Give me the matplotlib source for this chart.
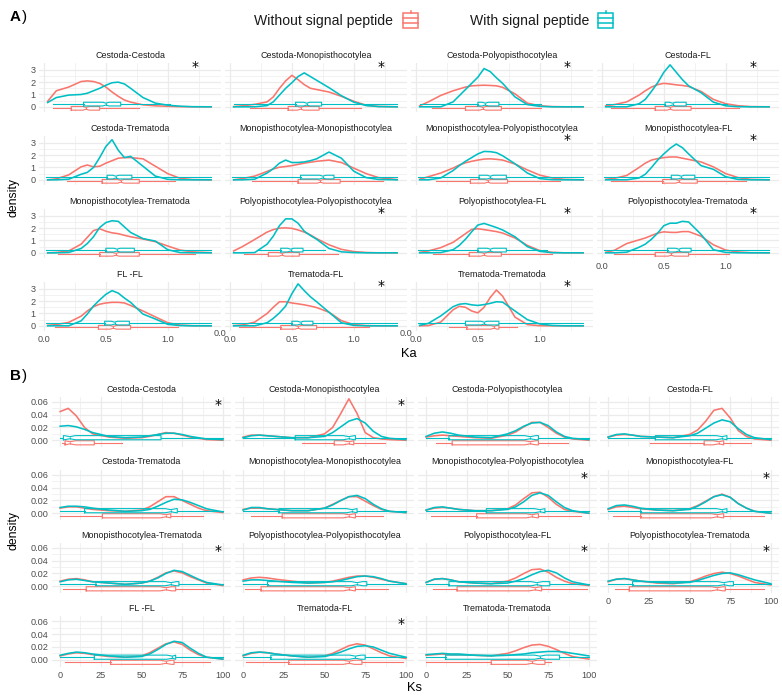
import numpy as np
import matplotlib
matplotlib.use("Agg")
import matplotlib.pyplot as plt
from matplotlib import font_manager
from matplotlib.patches import Rectangle
from matplotlib.lines import Line2D

# font: narrow sans if we have it
_names = {f.name for f in font_manager.fontManager.ttflist}
if 'Liberation Sans Narrow' in _names:
    FONT, SC = 'Liberation Sans Narrow', 1.0
else:
    FONT, SC = 'Liberation Sans', 0.84
plt.rcParams['font.family'] = [FONT, 'DejaVu Sans']

RED = '#F8766D'
CYAN = '#00BFC4'

facets = ["Cestoda-Cestoda", "Cestoda-Monopisthocotylea", "Cestoda-Polyopisthocotylea", "Cestoda-FL",
          "Cestoda-Trematoda", "Monopisthocotylea-Monopisthocotylea", "Monopisthocotylea-Polyopisthocotylea",
          "Monopisthocotylea-FL", "Monopisthocotylea-Trematoda", "Polyopisthocotylea-Polyopisthocotylea",
          "Polyopisthocotylea-FL", "Polyopisthocotylea-Trematoda", "FL -FL", "Trematoda-FL",
          "Trematoda-Trematoda"]

# ---------------- Ka ----------------
ka_grid = [0.03, 0.1, 0.2, 0.3, 0.35, 0.4, 0.45, 0.5, 0.55, 0.6, 0.65, 0.7, 0.8, 0.9, 1.0, 1.1, 1.2, 1.35]

ka_without = {
    "Cestoda-Cestoda": [0.45, 1.3, 1.6, 2.05, 2.1, 2.05, 1.9, 1.6, 1.2, 0.85, 0.55, 0.38, 0.16, 0.08, 0.04, 0.01, 0, 0],
    "Cestoda-Monopisthocotylea": [0.02, 0.08, 0.2, 0.4, 0.8, 1.5, 2.1, 2.55, 2.2, 1.8, 1.5, 1.4, 1.2, 0.85, 0.45, 0.13, 0.03, 0],
    "Cestoda-Polyopisthocotylea": [0.08, 0.4, 0.92, 1.3, 1.45, 1.6, 1.7, 1.73, 1.75, 1.73, 1.7, 1.58, 1.05, 0.3, 0.08, 0.02, 0, 0],
    "Cestoda-FL": [0.08, 0.18, 0.4, 0.95, 1.3, 1.6, 1.8, 1.9, 1.85, 1.78, 1.73, 1.65, 1.25, 0.6, 0.25, 0.09, 0.02, 0],
    "Cestoda-Trematoda": [0, 0.08, 0.4, 1.05, 1.2, 1.05, 1.1, 1.35, 1.55, 1.75, 1.8, 1.8, 1.7, 1.1, 0.5, 0.12, 0.02, 0],
    "Monopisthocotylea-Monopisthocotylea": [0, 0.1, 0.3, 0.68, 0.88, 1.02, 1.08, 1.15, 1.25, 1.35, 1.43, 1.5, 1.6, 1.4, 0.95, 0.5, 0.18, 0.02],
    "Monopisthocotylea-Polyopisthocotylea": [0.05, 0.25, 0.55, 0.95, 1.2, 1.38, 1.5, 1.6, 1.68, 1.7, 1.66, 1.6, 1.28, 0.8, 0.38, 0.15, 0.04, 0],
    "Monopisthocotylea-FL": [0.04, 0.12, 0.35, 1.0, 1.35, 1.6, 1.72, 1.8, 1.85, 1.85, 1.75, 1.65, 1.45, 1.05, 0.5, 0.18, 0.04, 0],
    "Monopisthocotylea-Trematoda": [0, 0.03, 0.15, 0.7, 1.25, 1.8, 1.95, 1.75, 1.62, 1.55, 1.42, 1.3, 1.12, 0.9, 0.55, 0.22, 0.08, 0.01],
    "Polyopisthocotylea-Polyopisthocotylea": [0.15, 0.5, 1.08, 1.68, 1.88, 2.0, 2.02, 1.98, 1.85, 1.68, 1.45, 1.15, 0.65, 0.28, 0.1, 0.03, 0, 0],
    "Polyopisthocotylea-FL": [0.04, 0.15, 0.42, 0.85, 1.2, 1.55, 1.9, 1.95, 1.88, 1.8, 1.72, 1.6, 1.2, 0.6, 0.18, 0.04, 0, 0],
    "Polyopisthocotylea-Trematoda": [0.04, 0.2, 0.75, 1.05, 1.2, 1.4, 1.6, 1.7, 1.66, 1.65, 1.72, 1.72, 1.35, 0.65, 0.22, 0.07, 0.01, 0],
    "FL -FL": [0.04, 0.1, 0.28, 0.78, 1.2, 1.55, 1.75, 1.85, 1.9, 1.9, 1.85, 1.65, 1.2, 0.72, 0.25, 0.06, 0.01, 0],
    "Trematoda-FL": [0.02, 0.07, 0.3, 1.0, 1.5, 1.95, 1.95, 1.85, 1.78, 1.7, 1.6, 1.48, 1.1, 0.42, 0.1, 0.02, 0, 0],
    "Trematoda-Trematoda": [0, 0.02, 0.3, 1.3, 1.58, 1.5, 1.2, 1.05, 1.5, 2.3, 2.9, 2.4, 0.7, 0.1, 0.01, 0, 0, 0],
}
ka_with = {
    "Cestoda-Cestoda": [0.35, 0.75, 0.95, 1.0, 1.1, 1.3, 1.5, 1.75, 1.95, 2.0, 1.85, 1.5, 0.75, 0.3, 0.13, 0.05, 0.01, 0],
    "Cestoda-Monopisthocotylea": [0, 0, 0, 0.1, 0.4, 0.95, 1.5, 1.95, 2.45, 2.75, 2.45, 2.15, 1.55, 0.9, 0.38, 0.1, 0.02, 0],
    "Cestoda-Polyopisthocotylea": [0, 0, 0, 0.4, 0.9, 1.4, 1.9, 2.4, 3.1, 2.85, 2.35, 1.9, 0.8, 0.18, 0.04, 0, 0, 0],
    "Cestoda-FL": [0, 0, 0, 0.25, 0.6, 1.25, 1.95, 2.8, 3.4, 2.8, 2.2, 1.7, 1.15, 0.38, 0.08, 0.01, 0, 0],
    "Cestoda-Trematoda": [0, 0, 0.05, 0.45, 0.6, 1.0, 1.8, 2.7, 3.25, 2.4, 1.8, 1.9, 1.1, 0.3, 0.04, 0, 0, 0],
    "Monopisthocotylea-Monopisthocotylea": [0, 0, 0.05, 0.55, 0.9, 1.35, 1.6, 1.4, 1.4, 1.45, 1.55, 1.7, 2.25, 1.75, 0.7, 0.18, 0.03, 0],
    "Monopisthocotylea-Polyopisthocotylea": [0, 0, 0.15, 0.75, 1.15, 1.5, 1.8, 2.1, 2.3, 2.28, 2.2, 1.95, 1.3, 0.55, 0.1, 0.01, 0, 0],
    "Monopisthocotylea-FL": [0, 0, 0, 0.15, 0.45, 1.0, 1.6, 2.1, 2.55, 2.9, 2.6, 2.1, 1.15, 0.85, 0.25, 0.03, 0, 0],
    "Monopisthocotylea-Trematoda": [0, 0, 0.03, 0.35, 0.75, 1.3, 2.05, 2.45, 2.6, 2.55, 2.1, 1.65, 1.15, 0.95, 0.25, 0.02, 0, 0],
    "Polyopisthocotylea-Polyopisthocotylea": [0, 0, 0.02, 0.7, 1.35, 2.2, 2.75, 2.75, 2.4, 1.75, 1.4, 1.1, 0.35, 0.08, 0.02, 0, 0, 0],
    "Polyopisthocotylea-FL": [0, 0, 0.02, 0.25, 0.6, 1.1, 1.7, 2.25, 2.38, 2.22, 2.05, 1.85, 1.3, 0.5, 0.12, 0.01, 0, 0],
    "Polyopisthocotylea-Trematoda": [0, 0, 0.05, 0.45, 0.7, 1.1, 1.6, 2.2, 2.4, 2.4, 2.55, 2.5, 1.5, 0.25, 0.03, 0, 0, 0],
    "FL -FL": [0, 0, 0, 0.4, 0.95, 1.6, 2.1, 2.55, 2.85, 2.65, 2.25, 1.9, 0.95, 0.55, 0.12, 0.02, 0, 0],
    "Trematoda-FL": [0, 0, 0, 0.25, 0.6, 1.05, 1.6, 2.6, 3.4, 2.85, 2.35, 1.95, 1.1, 0.25, 0.03, 0, 0, 0],
    "Trematoda-Trematoda": [0.04, 0.2, 0.8, 1.55, 1.75, 1.8, 1.7, 1.65, 1.72, 1.82, 1.95, 1.92, 1.2, 0.5, 0.15, 0.03, 0, 0],
}
# (whisker low, q1, median, q3, whisker high)
ka_box_without = {
    "Cestoda-Cestoda": (0.07, 0.22, 0.34, 0.45, 0.77),
    "Cestoda-Monopisthocotylea": (0.16, 0.47, 0.57, 0.72, 1.06),
    "Cestoda-Polyopisthocotylea": (0.13, 0.40, 0.54, 0.69, 1.01),
    "Cestoda-FL": (0.07, 0.43, 0.55, 0.72, 1.11),
    "Cestoda-Trematoda": (0.19, 0.47, 0.62, 0.77, 1.06),
    "Monopisthocotylea-Monopisthocotylea": (0.18, 0.55, 0.73, 0.89, 1.24),
    "Monopisthocotylea-Polyopisthocotylea": (0.16, 0.44, 0.58, 0.74, 1.16),
    "Monopisthocotylea-FL": (0.07, 0.49, 0.62, 0.77, 1.16),
    "Monopisthocotylea-Trematoda": (0.11, 0.45, 0.58, 0.77, 1.22),
    "Polyopisthocotylea-Polyopisthocotylea": (0.11, 0.31, 0.42, 0.56, 0.87),
    "Polyopisthocotylea-FL": (0.14, 0.43, 0.55, 0.69, 1.10),
    "Polyopisthocotylea-Trematoda": (0.10, 0.43, 0.56, 0.70, 1.03),
    "FL -FL": (0.09, 0.44, 0.56, 0.70, 1.08),
    "Trematoda-FL": (0.07, 0.41, 0.55, 0.70, 1.12),
    "Trematoda-Trematoda": (0.27, 0.41, 0.63, 0.67, 0.82),
}
ka_box_with = {
    "Cestoda-Cestoda": (0.07, 0.32, 0.50, 0.62, 1.02),
    "Cestoda-Monopisthocotylea": (0.03, 0.53, 0.62, 0.74, 1.35),
    "Cestoda-Polyopisthocotylea": (0.03, 0.50, 0.56, 0.67, 1.01),
    "Cestoda-FL": (0.03, 0.51, 0.57, 0.68, 1.01),
    "Cestoda-Trematoda": (0.02, 0.51, 0.58, 0.71, 1.35),
    "Monopisthocotylea-Monopisthocotylea": (0.02, 0.57, 0.75, 0.84, 1.35),
    "Monopisthocotylea-Polyopisthocotylea": (0.02, 0.51, 0.60, 0.73, 1.35),
    "Monopisthocotylea-FL": (0.02, 0.56, 0.64, 0.75, 1.35),
    "Monopisthocotylea-Trematoda": (0.02, 0.50, 0.59, 0.73, 1.35),
    "Polyopisthocotylea-Polyopisthocotylea": (0.22, 0.41, 0.49, 0.59, 0.77),
    "Polyopisthocotylea-FL": (0.02, 0.50, 0.60, 0.73, 1.06),
    "Polyopisthocotylea-Trematoda": (0.02, 0.53, 0.62, 0.72, 1.35),
    "FL -FL": (0.02, 0.49, 0.57, 0.69, 1.35),
    "Trematoda-FL": (0.02, 0.50, 0.57, 0.67, 1.35),
    "Trematoda-Trematoda": (0.02, 0.40, 0.55, 0.67, 1.35),
}
ka_star = ["Cestoda-Cestoda", "Cestoda-Monopisthocotylea", "Cestoda-Polyopisthocotylea", "Cestoda-FL",
           "Monopisthocotylea-Polyopisthocotylea", "Monopisthocotylea-FL",
           "Polyopisthocotylea-Polyopisthocotylea", "Polyopisthocotylea-FL", "Polyopisthocotylea-Trematoda",
           "Trematoda-FL", "Trematoda-Trematoda"]

# ---------------- Ks ----------------
ks_grid = [0, 5, 10, 15, 20, 30, 40, 50, 55, 60, 65, 70, 75, 80, 85, 90, 100]

ks_without = {
    "Cestoda-Cestoda": [0.045, 0.05, 0.038, 0.02, 0.01, 0.005, 0.003, 0.004, 0.006, 0.009, 0.012, 0.011, 0.008, 0.005, 0.003, 0.001, 0],
    "Cestoda-Monopisthocotylea": [0.005, 0.008, 0.008, 0.007, 0.006, 0.004, 0.004, 0.01, 0.02, 0.042, 0.065, 0.042, 0.012, 0.004, 0.002, 0.001, 0],
    "Cestoda-Polyopisthocotylea": [0.005, 0.007, 0.008, 0.007, 0.006, 0.004, 0.003, 0.008, 0.013, 0.021, 0.028, 0.028, 0.02, 0.011, 0.005, 0.002, 0],
    "Cestoda-FL": [0.005, 0.008, 0.009, 0.008, 0.006, 0.005, 0.004, 0.009, 0.016, 0.03, 0.047, 0.05, 0.035, 0.015, 0.006, 0.002, 0],
    "Cestoda-Trematoda": [0.008, 0.01, 0.01, 0.008, 0.006, 0.004, 0.003, 0.005, 0.01, 0.018, 0.026, 0.026, 0.02, 0.014, 0.008, 0.004, 0.001],
    "Monopisthocotylea-Monopisthocotylea": [0.006, 0.008, 0.008, 0.007, 0.006, 0.004, 0.004, 0.008, 0.014, 0.02, 0.026, 0.026, 0.019, 0.012, 0.006, 0.003, 0.001],
    "Monopisthocotylea-Polyopisthocotylea": [0.005, 0.008, 0.009, 0.008, 0.006, 0.004, 0.004, 0.007, 0.013, 0.023, 0.032, 0.033, 0.025, 0.014, 0.006, 0.003, 0],
    "Monopisthocotylea-FL": [0.006, 0.01, 0.011, 0.009, 0.007, 0.005, 0.004, 0.007, 0.012, 0.019, 0.026, 0.03, 0.025, 0.015, 0.008, 0.003, 0],
    "Monopisthocotylea-Trematoda": [0.008, 0.011, 0.012, 0.01, 0.007, 0.005, 0.003, 0.005, 0.008, 0.014, 0.021, 0.024, 0.021, 0.015, 0.01, 0.005, 0.001],
    "Polyopisthocotylea-Polyopisthocotylea": [0.01, 0.013, 0.014, 0.013, 0.011, 0.008, 0.005, 0.006, 0.008, 0.011, 0.014, 0.016, 0.016, 0.014, 0.011, 0.008, 0.004],
    "Polyopisthocotylea-FL": [0.006, 0.011, 0.012, 0.01, 0.007, 0.005, 0.004, 0.008, 0.013, 0.02, 0.026, 0.027, 0.022, 0.014, 0.008, 0.004, 0.001],
    "Polyopisthocotylea-Trematoda": [0.007, 0.011, 0.012, 0.01, 0.008, 0.005, 0.004, 0.007, 0.011, 0.016, 0.02, 0.022, 0.02, 0.016, 0.011, 0.006, 0.002],
    "FL -FL": [0.006, 0.009, 0.011, 0.01, 0.008, 0.005, 0.004, 0.006, 0.011, 0.018, 0.025, 0.028, 0.024, 0.015, 0.008, 0.004, 0.001],
    "Trematoda-FL": [0.006, 0.01, 0.012, 0.011, 0.009, 0.006, 0.004, 0.006, 0.01, 0.016, 0.022, 0.025, 0.023, 0.017, 0.011, 0.006, 0.002],
    "Trematoda-Trematoda": [0.007, 0.008, 0.009, 0.008, 0.008, 0.007, 0.006, 0.01, 0.014, 0.019, 0.023, 0.024, 0.021, 0.016, 0.01, 0.005, 0.001],
}
ks_with = {
    "Cestoda-Cestoda": [0.022, 0.023, 0.021, 0.017, 0.012, 0.006, 0.004, 0.005, 0.007, 0.009, 0.011, 0.011, 0.009, 0.006, 0.004, 0.002, 0.001],
    "Cestoda-Monopisthocotylea": [0.004, 0.007, 0.008, 0.007, 0.006, 0.004, 0.004, 0.006, 0.012, 0.021, 0.03, 0.034, 0.027, 0.014, 0.006, 0.003, 0.001],
    "Cestoda-Polyopisthocotylea": [0.006, 0.011, 0.013, 0.011, 0.008, 0.005, 0.004, 0.01, 0.015, 0.022, 0.027, 0.028, 0.023, 0.013, 0.006, 0.003, 0.001],
    "Cestoda-FL": [0.005, 0.009, 0.01, 0.008, 0.006, 0.005, 0.004, 0.007, 0.011, 0.019, 0.027, 0.032, 0.029, 0.018, 0.009, 0.004, 0.001],
    "Cestoda-Trematoda": [0.009, 0.011, 0.011, 0.01, 0.008, 0.005, 0.003, 0.004, 0.006, 0.011, 0.017, 0.022, 0.021, 0.017, 0.012, 0.007, 0.002],
    "Monopisthocotylea-Monopisthocotylea": [0.005, 0.009, 0.009, 0.007, 0.006, 0.004, 0.004, 0.008, 0.013, 0.02, 0.026, 0.028, 0.023, 0.014, 0.007, 0.003, 0.001],
    "Monopisthocotylea-Polyopisthocotylea": [0.005, 0.009, 0.01, 0.008, 0.006, 0.004, 0.004, 0.006, 0.01, 0.018, 0.028, 0.032, 0.028, 0.018, 0.009, 0.004, 0],
    "Monopisthocotylea-FL": [0.007, 0.012, 0.013, 0.011, 0.008, 0.005, 0.004, 0.006, 0.011, 0.018, 0.026, 0.029, 0.025, 0.015, 0.008, 0.003, 0],
    "Monopisthocotylea-Trematoda": [0.007, 0.01, 0.011, 0.009, 0.007, 0.005, 0.003, 0.005, 0.008, 0.013, 0.02, 0.025, 0.023, 0.017, 0.011, 0.006, 0.002],
    "Polyopisthocotylea-Polyopisthocotylea": [0.008, 0.01, 0.01, 0.009, 0.008, 0.006, 0.005, 0.006, 0.007, 0.009, 0.012, 0.015, 0.016, 0.015, 0.012, 0.008, 0.004],
    "Polyopisthocotylea-FL": [0.006, 0.011, 0.012, 0.01, 0.007, 0.005, 0.004, 0.005, 0.008, 0.012, 0.018, 0.023, 0.025, 0.021, 0.013, 0.007, 0.002],
    "Polyopisthocotylea-Trematoda": [0.008, 0.011, 0.012, 0.01, 0.008, 0.006, 0.005, 0.006, 0.009, 0.013, 0.017, 0.02, 0.021, 0.018, 0.014, 0.01, 0.004],
    "FL -FL": [0.007, 0.01, 0.012, 0.011, 0.009, 0.006, 0.004, 0.005, 0.009, 0.016, 0.024, 0.029, 0.027, 0.018, 0.01, 0.004, 0.001],
    "Trematoda-FL": [0.007, 0.011, 0.012, 0.011, 0.009, 0.006, 0.004, 0.005, 0.008, 0.012, 0.017, 0.021, 0.022, 0.02, 0.015, 0.01, 0.004],
    "Trematoda-Trematoda": [0.008, 0.009, 0.01, 0.009, 0.009, 0.007, 0.006, 0.007, 0.008, 0.009, 0.011, 0.012, 0.013, 0.013, 0.012, 0.01, 0.006],
}
ks_box_without = {
    "Cestoda-Cestoda": (1, 3, 6, 21, 38),
    "Cestoda-Monopisthocotylea": (36, 56, 65, 68, 87),
    "Cestoda-Polyopisthocotylea": (6, 16, 64, 69, 87),
    "Cestoda-FL": (26, 59, 68, 71, 88),
    "Cestoda-Trematoda": (0, 26, 65, 68, 88),
    "Monopisthocotylea-Monopisthocotylea": (5, 24, 65, 69, 86),
    "Monopisthocotylea-Polyopisthocotylea": (3, 31, 65, 69, 95),
    "Monopisthocotylea-FL": (3, 20, 67, 71, 96),
    "Monopisthocotylea-Trematoda": (2, 16, 65, 71, 92),
    "Polyopisthocotylea-Polyopisthocotylea": (1, 11, 65, 69, 89),
    "Polyopisthocotylea-FL": (4, 19, 67, 71, 99),
    "Polyopisthocotylea-Trematoda": (4, 13, 67, 72, 96),
    "FL -FL": (3, 31, 65, 70, 92),
    "Trematoda-FL": (2, 28, 65, 73, 98),
    "Trematoda-Trematoda": (0, 40, 65, 73, 77),
}
ks_box_with = {
    "Cestoda-Cestoda": (0, 2, 6, 62, 100),
    "Cestoda-Monopisthocotylea": (0, 32, 65, 69, 100),
    "Cestoda-Polyopisthocotylea": (0, 14, 64, 69, 100),
    "Cestoda-FL": (0, 29, 70, 73, 100),
    "Cestoda-Trematoda": (0, 15, 68, 72, 100),
    "Monopisthocotylea-Monopisthocotylea": (0, 22, 67, 70, 100),
    "Monopisthocotylea-Polyopisthocotylea": (0, 37, 70, 73, 100),
    "Monopisthocotylea-FL": (0, 20, 70, 73, 100),
    "Monopisthocotylea-Trematoda": (0, 22, 68, 73, 100),
    "Polyopisthocotylea-Polyopisthocotylea": (0, 15, 70, 76, 100),
    "Polyopisthocotylea-FL": (0, 14, 68, 76, 100),
    "Polyopisthocotylea-Trematoda": (0, 15, 71, 77, 100),
    "FL -FL": (0, 21, 69, 71, 100),
    "Trematoda-FL": (0, 17, 69, 75, 100),
    "Trematoda-Trematoda": (0, 12, 70, 82, 100),
}
ks_star = ["Cestoda-Cestoda", "Cestoda-Monopisthocotylea", "Monopisthocotylea-Polyopisthocotylea",
           "Monopisthocotylea-FL", "Monopisthocotylea-Trematoda", "Polyopisthocotylea-FL",
           "Polyopisthocotylea-Trematoda", "Trematoda-FL"]

# ---------------- layout (pixels) ----------------
W, H = 782, 697
fig = plt.figure(figsize=(W / 100, H / 100), dpi=100)


def add_ax(left, top, w, h):
    return fig.add_axes([left / W, 1 - (top + h) / H, w / W, h / H])


def ftext(x, y, s, **kw):
    fig.text(x / W, 1 - y / H, s, **kw)


GRID = '#EBEBEB'
TICKC = '#4D4D4D'


def make_stats(b, ci):
    lo, q1, med, q3, hi = b
    return dict(whislo=lo, q1=q1, med=med, q3=q3, whishi=hi, fliers=[],
                cilo=max(q1, med - ci), cihi=min(q3, med + ci))


def draw_panel(cfg, lefts, bottoms, width, height):
    for i, name in enumerate(facets):
        r, c = divmod(i, 4)
        top = bottoms[r] - height
        ax = add_ax(lefts[c], top, width, height)
        ax.set_xlim(cfg['xlim'])
        ax.set_ylim(cfg['ylim'])
        for s in ax.spines.values():
            s.set_visible(False)
        ax.set_xticks(cfg['xticks'])
        ax.set_xticks(cfg['xminor'], minor=True)
        ax.set_yticks(cfg['yticks'])
        ax.set_yticks(cfg['yminor'], minor=True)
        ax.grid(which='major', color=GRID, lw=0.9)
        ax.grid(which='minor', color=GRID, lw=0.45)
        ax.set_axisbelow(True)
        ax.tick_params(which='both', length=0, labelsize=7.8 * SC, labelcolor=TICKC, pad=2.3)
        ax.tick_params(axis='x', pad=3.0)
        bottom_of_col = (r == 3) or (r == 2 and c == 3)
        ax.set_xticklabels(cfg['xlabels'] if bottom_of_col else [])
        ax.set_yticklabels(cfg['ylabels'] if c == 0 else [])

        ax.plot(cfg['grid'], cfg['without'][name], color=RED, lw=1.15, solid_joinstyle='round')
        ax.plot(cfg['grid'], cfg['with'][name], color=CYAN, lw=1.15, solid_joinstyle='round')

        stats = [make_stats(cfg['box_without'][name], cfg['ci']),
                 make_stats(cfg['box_with'][name], cfg['ci'])]
        bp = ax.bxp(stats, positions=cfg['pos'], widths=cfg['bw'], orientation='horizontal',
                    shownotches=True, showcaps=False, showfliers=False, manage_ticks=False)
        for j, col in enumerate([RED, CYAN]):
            bp['boxes'][j].set(color=col, lw=0.8)
            bp['medians'][j].set(color=col, lw=0.8)
            for k in (2 * j, 2 * j + 1):
                bp['whiskers'][k].set(color=col, lw=0.8)

        if name in cfg['star']:
            ax.text(cfg['star_xy'][0], cfg['star_xy'][1], '*', ha='center', va='center',
                    fontsize=10, color='black', family='DejaVu Sans')
        ftext(lefts[c] + width / 2, top - 7.5, name, ha='center', va='center',
              fontsize=7.6 * SC, color='#1A1A1A')


ka_cfg = dict(grid=ka_grid, without=ka_without, **{'with': ka_with},
              box_without=ka_box_without, box_with=ka_box_with, star=ka_star,
              xlim=(-0.04, 1.43), ylim=(-0.42, 3.55),
              xticks=[0, 0.5, 1.0], xminor=[0.25, 0.75, 1.25], xlabels=['0.0', '0.5', '1.0'],
              yticks=[0, 1, 2, 3], yminor=[0.5, 1.5, 2.5], ylabels=['0', '1', '2', '3'],
              pos=[-0.12, 0.22], bw=0.3, ci=0.025, star_xy=(1.22, 3.2))
ks_cfg = dict(grid=ks_grid, without=ks_without, **{'with': ks_with},
              box_without=ks_box_without, box_with=ks_box_with, star=ks_star,
              xlim=(-5, 105), ylim=(-0.0106, 0.0686),
              xticks=[0, 25, 50, 75, 100], xminor=[12.5, 37.5, 62.5, 87.5],
              xlabels=['0', '25', '50', '75', '100'],
              yticks=[0, 0.02, 0.04, 0.06], yminor=[0.01, 0.03, 0.05],
              ylabels=['0.00', '0.02', '0.04', '0.06'],
              pos=[-0.004, 0.004], bw=0.0065, ci=3.5, star_xy=(97, 0.056))

draw_panel(ka_cfg, lefts=[39, 225, 411, 597], bottoms=[112, 185, 258, 331], width=182, height=49)
draw_panel(ks_cfg, lefts=[52, 235, 418, 600], bottoms=[447, 520, 593, 666.5], width=179, height=50.5)

# axis titles and panel letters
ftext(409, 354, 'Ka', ha='center', va='center', fontsize=11 * SC, color='black')
ftext(414, 688, 'Ks', ha='center', va='center', fontsize=11 * SC, color='black')
ftext(14, 197, 'density', ha='center', va='center', rotation=90, fontsize=10.5 * SC, color='black')
ftext(14, 530, 'density', ha='center', va='center', rotation=90, fontsize=10.5 * SC, color='black')
ftext(10, 17, 'A', ha='left', va='center', fontsize=13 * SC, fontweight='bold')
ftext(22, 17, ')', ha='left', va='center', fontsize=13 * SC)
ftext(10, 376, 'B', ha='left', va='center', fontsize=13 * SC, fontweight='bold')
ftext(22, 376, ')', ha='left', va='center', fontsize=13 * SC)

# stray tick labels visible in the original between facets
for x in (220, 406):
    ftext(x, 333, '0.0', ha='center', va='center', fontsize=7.8 * SC, color=TICKC)

# legend
ftext(254, 21, 'Without signal peptide', ha='left', va='center', fontsize=12 * SC, color='#1A1A1A')
ftext(470, 21, 'With signal peptide', ha='left', va='center', fontsize=12 * SC, color='#1A1A1A')
for x0, col in ((403, RED), (598, CYAN)):
    kx = lambda x: x / W
    ky = lambda y: 1 - y / H
    fig.add_artist(Rectangle((kx(x0), ky(28)), 15 / W, 15 / H, fill=False, ec=col, lw=1.1,
                             transform=fig.transFigure))
    for yy in (18, 23):
        fig.add_artist(Line2D([kx(x0), kx(x0 + 15)], [ky(yy), ky(yy)], color=col, lw=1.1,
                              transform=fig.transFigure))
    fig.add_artist(Line2D([kx(x0 + 7.5), kx(x0 + 7.5)], [ky(13), ky(11)], color=col, lw=1.1,
                          transform=fig.transFigure))

fig.savefig('out.png', dpi=100, facecolor='white')
